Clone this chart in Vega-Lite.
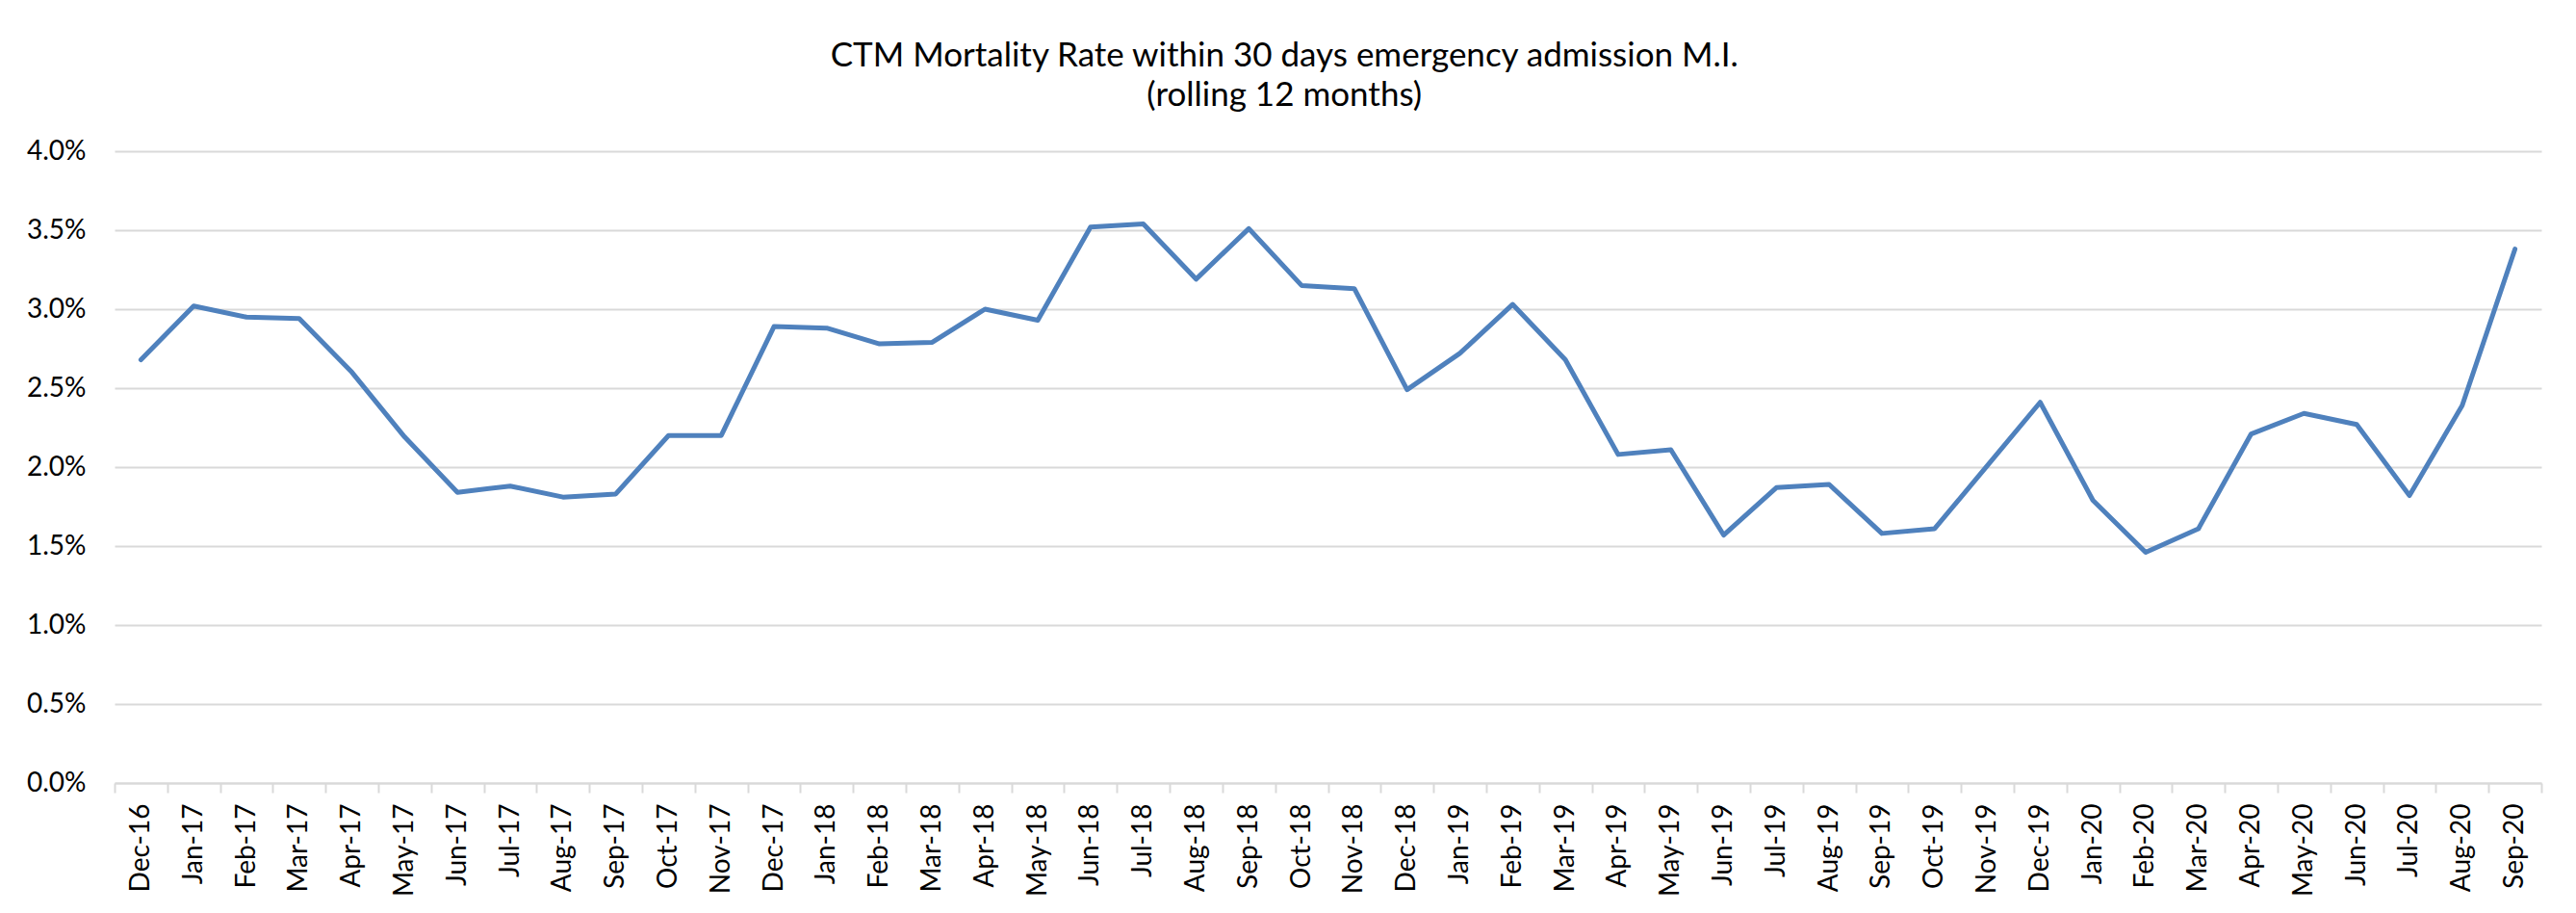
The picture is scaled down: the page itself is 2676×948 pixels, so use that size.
{
  "$schema": "https://vega.github.io/schema/vega-lite/v6.json",
  "autosize": {"type": "none"},
  "width": 2521,
  "height": 656,
  "padding": {"left": 119, "top": 157, "right": 36, "bottom": 135},
  "background": "white",
  "title": {
    "text": ["CTM Mortality Rate within 30 days emergency admission M.I.", "(rolling 12 months)"],
    "font": "Lato",
    "fontSize": 35,
    "fontWeight": "normal",
    "color": "#000000",
    "anchor": "middle",
    "frame": "bounds",
    "lineHeight": 41,
    "offset": 26
  },
  "data": {
    "values": [
      {"month": "Dec-16", "rate": 0.0268},
      {"month": "Jan-17", "rate": 0.0302},
      {"month": "Feb-17", "rate": 0.0295},
      {"month": "Mar-17", "rate": 0.0294},
      {"month": "Apr-17", "rate": 0.0260},
      {"month": "May-17", "rate": 0.0219},
      {"month": "Jun-17", "rate": 0.0184},
      {"month": "Jul-17", "rate": 0.0188},
      {"month": "Aug-17", "rate": 0.0181},
      {"month": "Sep-17", "rate": 0.0183},
      {"month": "Oct-17", "rate": 0.0220},
      {"month": "Nov-17", "rate": 0.0220},
      {"month": "Dec-17", "rate": 0.0289},
      {"month": "Jan-18", "rate": 0.0288},
      {"month": "Feb-18", "rate": 0.0278},
      {"month": "Mar-18", "rate": 0.0279},
      {"month": "Apr-18", "rate": 0.0300},
      {"month": "May-18", "rate": 0.0293},
      {"month": "Jun-18", "rate": 0.0352},
      {"month": "Jul-18", "rate": 0.0354},
      {"month": "Aug-18", "rate": 0.0319},
      {"month": "Sep-18", "rate": 0.0351},
      {"month": "Oct-18", "rate": 0.0315},
      {"month": "Nov-18", "rate": 0.0313},
      {"month": "Dec-18", "rate": 0.0249},
      {"month": "Jan-19", "rate": 0.0272},
      {"month": "Feb-19", "rate": 0.0303},
      {"month": "Mar-19", "rate": 0.0268},
      {"month": "Apr-19", "rate": 0.0208},
      {"month": "May-19", "rate": 0.0211},
      {"month": "Jun-19", "rate": 0.0157},
      {"month": "Jul-19", "rate": 0.0187},
      {"month": "Aug-19", "rate": 0.0189},
      {"month": "Sep-19", "rate": 0.0158},
      {"month": "Oct-19", "rate": 0.0161},
      {"month": "Nov-19", "rate": 0.0201},
      {"month": "Dec-19", "rate": 0.0241},
      {"month": "Jan-20", "rate": 0.0179},
      {"month": "Feb-20", "rate": 0.0146},
      {"month": "Mar-20", "rate": 0.0161},
      {"month": "Apr-20", "rate": 0.0221},
      {"month": "May-20", "rate": 0.0234},
      {"month": "Jun-20", "rate": 0.0227},
      {"month": "Jul-20", "rate": 0.0182},
      {"month": "Aug-20", "rate": 0.0239},
      {"month": "Sep-20", "rate": 0.0338}
    ]
  },
  "mark": {"type": "line", "color": "#4F81BD", "strokeWidth": 5, "strokeJoin": "round", "strokeCap": "round"},
  "encoding": {
    "x": {
      "field": "month",
      "type": "nominal",
      "sort": null,
      "bandPosition": 0.5,
      "scale": {"type": "band", "paddingInner": 0, "paddingOuter": 0},
      "axis": {
        "title": null,
        "labelAngle": -90,
        "labelAlign": "right",
        "labelBaseline": "middle",
        "labelFont": "Lato",
        "labelFontSize": 28,
        "labelColor": "#000000",
        "labelPadding": 11,
        "tickBand": "extent",
        "tickSize": 10,
        "tickColor": "#D9D9D9",
        "tickWidth": 2,
        "domainColor": "#D9D9D9",
        "domainWidth": 2,
        "grid": false
      }
    },
    "y": {
      "field": "rate",
      "type": "quantitative",
      "scale": {"domain": [0, 0.04], "nice": false, "zero": true},
      "axis": {
        "title": null,
        "format": ".1%",
        "values": [0, 0.005, 0.01, 0.015, 0.02, 0.025, 0.03, 0.035, 0.04],
        "labelFont": "Lato",
        "labelFontSize": 28,
        "labelColor": "#000000",
        "labelPadding": 30,
        "ticks": false,
        "domain": false,
        "grid": true,
        "gridColor": "#D9D9D9",
        "gridWidth": 2
      }
    }
  },
  "config": {"view": {"stroke": null}}
}
